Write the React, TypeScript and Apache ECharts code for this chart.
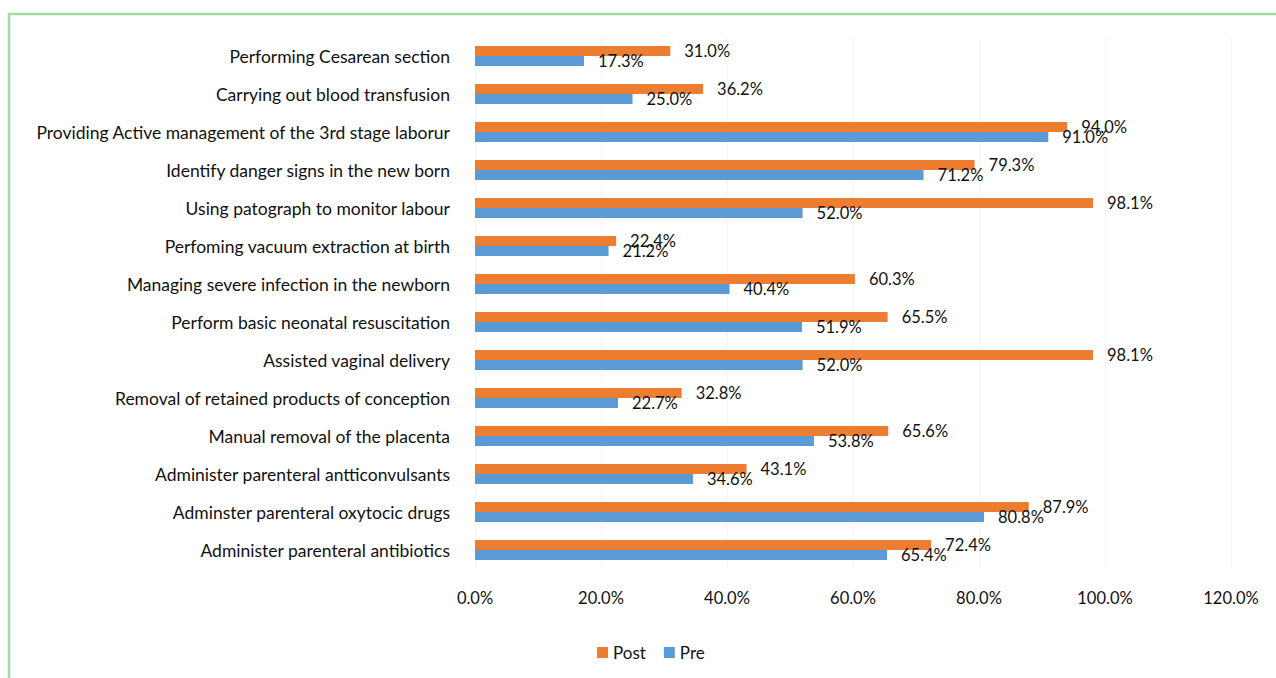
import React, { useEffect, useRef } from "react";
import * as echarts from "echarts";

const categories = [
  "Performing Cesarean section",
  "Carrying out blood transfusion",
  "Providing Active management of the 3rd stage laborur",
  "Identify danger signs in the new born",
  "Using patograph to monitor labour",
  "Perfoming vacuum extraction at birth",
  "Managing severe infection in the newborn",
  "Perform basic neonatal resuscitation",
  "Assisted vaginal delivery",
  "Removal of retained products of conception",
  "Manual removal of the placenta",
  "Administer parenteral antticonvulsants",
  "Adminster parenteral oxytocic drugs",
  "Administer parenteral antibiotics",
];

const postValues = [31.0, 36.2, 94.0, 79.3, 98.1, 22.4, 60.3, 65.5, 98.1, 32.8, 65.6, 43.1, 87.9, 72.4];
const preValues = [17.3, 25.0, 91.0, 71.2, 52.0, 21.2, 40.4, 51.9, 52.0, 22.7, 53.8, 34.6, 80.8, 65.4];

const seriesNames = ["Post", "Pre"];
const FONT = "Lato";
const TXT = "#111111";

export default function App() {
  const ref = useRef<HTMLDivElement>(null);
  useEffect(() => {
    document.body.style.margin = "0";
    const chart = echarts.init(ref.current!, null, { renderer: "svg" });
    const labelCfg = {
      show: true,
      position: "right" as const,
      distance: 14,
      color: TXT,
      fontFamily: FONT,
      fontSize: 16.5,
      formatter: (p: any) => p.value.toFixed(1) + "%",
    };
    chart.setOption({
      animation: false,
      backgroundColor: "#ffffff",
      textStyle: { fontFamily: FONT },
      graphic: [
        {
          type: "rect",
          shape: { x: 9, y: 14, width: 1320, height: 720 },
          style: { fill: "none", stroke: "#a3dba3", lineWidth: 2.5 },
          silent: true,
        },
      ],
      legend: {
        data: seriesNames,
        left: 597,
        top: 644,
        padding: 0,
        itemWidth: 11,
        itemHeight: 11,
        itemGap: 18,
        icon: "rect",
        textStyle: { color: TXT, fontFamily: FONT, fontSize: 17 },
      },
      grid: { left: 475, right: 45, top: 37, height: 532, containLabel: false },
      xAxis: {
        type: "value",
        min: 0,
        max: 120,
        interval: 20,
        axisLine: { show: false },
        axisTick: { show: false },
        splitLine: { show: true, lineStyle: { color: "#f5f5f5", width: 1 } },
        axisLabel: {
          color: TXT,
          fontFamily: FONT,
          fontSize: 16.5,
          margin: 20,
          formatter: (v: number) => v.toFixed(1) + "%",
        },
      },
      yAxis: {
        type: "category",
        inverse: true,
        data: categories,
        axisLine: { show: false },
        axisTick: { show: false },
        axisLabel: { color: TXT, fontFamily: FONT, fontSize: 17.5, margin: 25 },
      },
      series: [
        {
          name: "Post",
          type: "bar",
          data: postValues,
          barWidth: 10,
          barGap: "0%",
          itemStyle: { color: "#ED7D31" },
          label: labelCfg,
        },
        {
          name: "Pre",
          type: "bar",
          data: preValues,
          barWidth: 10,
          barGap: "0%",
          itemStyle: { color: "#5B9BD5" },
          label: labelCfg,
        },
      ],
    });
    return () => chart.dispose();
  }, []);
  return <div ref={ref} style={{ width: 1276, height: 678 }} />;
}
